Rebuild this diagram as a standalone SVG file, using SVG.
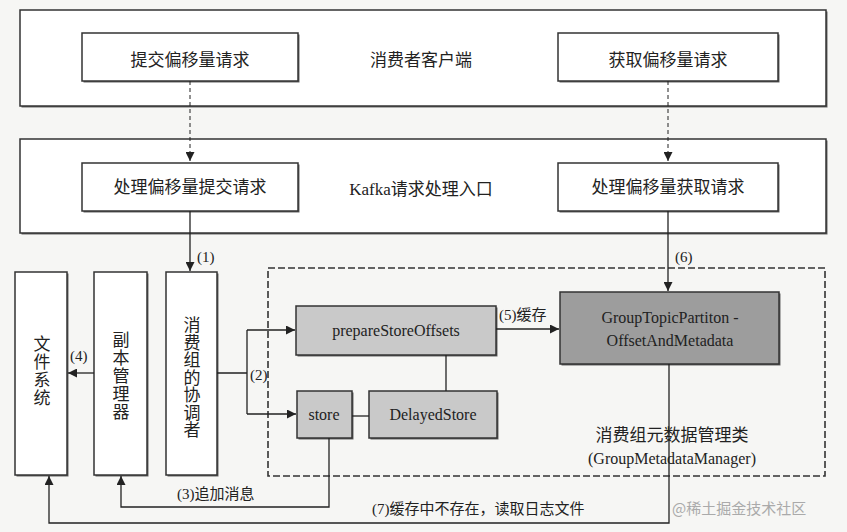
<svg xmlns="http://www.w3.org/2000/svg" width="847" height="532" viewBox="0 0 847 532">
<defs>
<marker id="ah" viewBox="0 0 10 10" refX="10" refY="5" markerWidth="9" markerHeight="9" markerUnits="userSpaceOnUse" orient="auto">
<path d="M0,0 L10,5 L0,10 Z" fill="#222"/>
</marker>
</defs>
<style>
.bg{fill:#f6f6f4}
.sh{fill:#666}
.box{fill:#ffffff;stroke:#333;stroke-width:1.5}
.lg{fill:#c9c9c9;stroke:#333;stroke-width:1.5}
.dg{fill:#9d9d9d;stroke:#333;stroke-width:1.5}
.dash{fill:none;stroke:#333;stroke-width:1.6;stroke-dasharray:7,3}
.cn{fill:none;stroke:#222;stroke-width:1.3}
.cd{fill:none;stroke:#222;stroke-width:1;stroke-dasharray:4,3}
.zh{font-family:"Liberation Serif","Noto Sans CJK SC",serif;font-size:17px;fill:#222;text-anchor:middle}
.en{font-family:"Liberation Serif","Noto Sans CJK SC",serif;font-size:16px;fill:#222;text-anchor:middle}
.lb{font-family:"Liberation Serif","Noto Sans CJK SC",serif;font-size:15px;fill:#222}
.wm{font-family:"Noto Sans CJK SC",sans-serif;font-size:15px;fill:#aaa}
</style>
<rect class="bg" x="0" y="0" width="847" height="532"/>

<g id="client">
<rect class="sh" x="21.5" y="11.5" width="806" height="96"/>
<rect class="box" x="20" y="10" width="806" height="96"/>
<text class="zh" x="421" y="66">消费者客户端</text>
</g>
<g id="commitReq">
<rect class="sh" x="83.5" y="34.5" width="216" height="48"/>
<rect class="box" x="82" y="33" width="216" height="48"/>
<text class="zh" x="190" y="66">提交偏移量请求</text>
</g>
<g id="fetchReq">
<rect class="sh" x="559.5" y="34.5" width="220" height="48"/>
<rect class="box" x="558" y="33" width="220" height="48"/>
<text class="zh" x="668" y="66">获取偏移量请求</text>
</g>

<g id="kafkaEntry">
<rect class="sh" x="21.5" y="140.5" width="806" height="94"/>
<rect class="box" x="20" y="139" width="806" height="94"/>
<text class="zh" x="421" y="195">Kafka请求处理入口</text>
</g>
<g id="handleCommit">
<rect class="sh" x="83.5" y="164.5" width="216" height="48"/>
<rect class="box" x="82" y="163" width="216" height="48"/>
<text class="zh" x="190" y="193">处理偏移量提交请求</text>
</g>
<g id="handleFetch">
<rect class="sh" x="559.5" y="164.5" width="220" height="48"/>
<rect class="box" x="558" y="163" width="220" height="48"/>
<text class="zh" x="668" y="193">处理偏移量获取请求</text>
</g>

<g id="fileSystem">
<rect class="sh" x="16.5" y="273.5" width="52" height="203"/>
<rect class="box" x="15" y="272" width="52" height="203"/>
<text class="zh" x="42" y="350"><tspan x="42">文</tspan><tspan x="42" dy="18">件</tspan><tspan x="42" dy="18">系</tspan><tspan x="42" dy="18">统</tspan></text>
</g>
<g id="replicaManager">
<rect class="sh" x="95.5" y="273.5" width="53" height="203"/>
<rect class="box" x="94" y="272" width="53" height="203"/>
<text class="zh" x="121" y="346"><tspan x="121">副</tspan><tspan x="121" dy="18">本</tspan><tspan x="121" dy="18">管</tspan><tspan x="121" dy="18">理</tspan><tspan x="121" dy="18">器</tspan></text>
</g>
<g id="coordinator">
<rect class="sh" x="167.5" y="273.5" width="51" height="203"/>
<rect class="box" x="166" y="272" width="51" height="203"/>
<text class="zh" x="192" y="331"><tspan x="192">消</tspan><tspan x="192" dy="17.5">费</tspan><tspan x="192" dy="17.5">组</tspan><tspan x="192" dy="17.5">的</tspan><tspan x="192" dy="17.5">协</tspan><tspan x="192" dy="17.5">调</tspan><tspan x="192" dy="17.5">者</tspan></text>
</g>

<g id="groupMetadataManager">
<rect class="dash" x="268" y="268" width="557" height="208"/>
<text class="zh" x="672" y="441">消费组元数据管理类</text>
<text class="en" x="672" y="464">(GroupMetadataManager)</text>
</g>
<g id="prepareStoreOffsets">
<rect class="sh" x="297.5" y="307.5" width="200" height="49"/>
<rect class="lg" x="296" y="306" width="200" height="49"/>
<text class="en" x="396" y="336">prepareStoreOffsets</text>
</g>
<g id="gtpCache">
<rect class="sh" x="561.5" y="293.5" width="219" height="72"/>
<rect class="dg" x="560" y="292" width="219" height="72"/>
<text class="en" x="670" y="323">GroupTopicPartiton -</text>
<text class="en" x="670" y="346">OffsetAndMetadata</text>
</g>
<g id="store">
<rect class="sh" x="298.5" y="392.5" width="55" height="47"/>
<rect class="lg" x="297" y="391" width="55" height="47"/>
<text class="en" x="324" y="420">store</text>
</g>
<g id="delayedStore">
<rect class="sh" x="370.5" y="392.5" width="128" height="47"/>
<rect class="lg" x="369" y="391" width="128" height="47"/>
<text class="en" x="433" y="420">DelayedStore</text>
</g>

<g id="connectors">
<path class="cd" d="M190,81 V161" marker-end="url(#ah)"/>
<path class="cd" d="M668,81 V161" marker-end="url(#ah)"/>
<path class="cn" d="M190,211 V271" marker-end="url(#ah)"/>
<text class="lb" x="197" y="262">(1)</text>
<path class="cn" d="M668,211 V291" marker-end="url(#ah)"/>
<text class="lb" x="675" y="262">(6)</text>
<path class="cn" d="M94,373 H68" marker-end="url(#ah)"/>
<text class="lb" x="70" y="361">(4)</text>
<path class="cn" d="M217,373 H247 M247,330 V414"/>
<path class="cn" d="M247,330 H295" marker-end="url(#ah)"/>
<path class="cn" d="M247,414 H296" marker-end="url(#ah)"/>
<text class="lb" x="250" y="380">(2)</text>
<path class="cn" d="M496,329 H559" marker-end="url(#ah)"/>
<text class="lb" x="499" y="320">(5)缓存</text>
<path class="cn" d="M446,355 V391"/>
<path class="cn" d="M352,416 H369"/>
<path class="cn" d="M329,438 V507 H121 V476" marker-end="url(#ah)"/>
<text class="lb" x="177" y="499">(3)追加消息</text>
<path class="cn" d="M669,364 V523 H49 V476" marker-end="url(#ah)"/>
<text class="lb" x="372" y="514">(7)缓存中不存在，读取日志文件</text>
</g>
<text class="wm" x="672" y="514">@稀土掘金技术社区</text>
</svg>
